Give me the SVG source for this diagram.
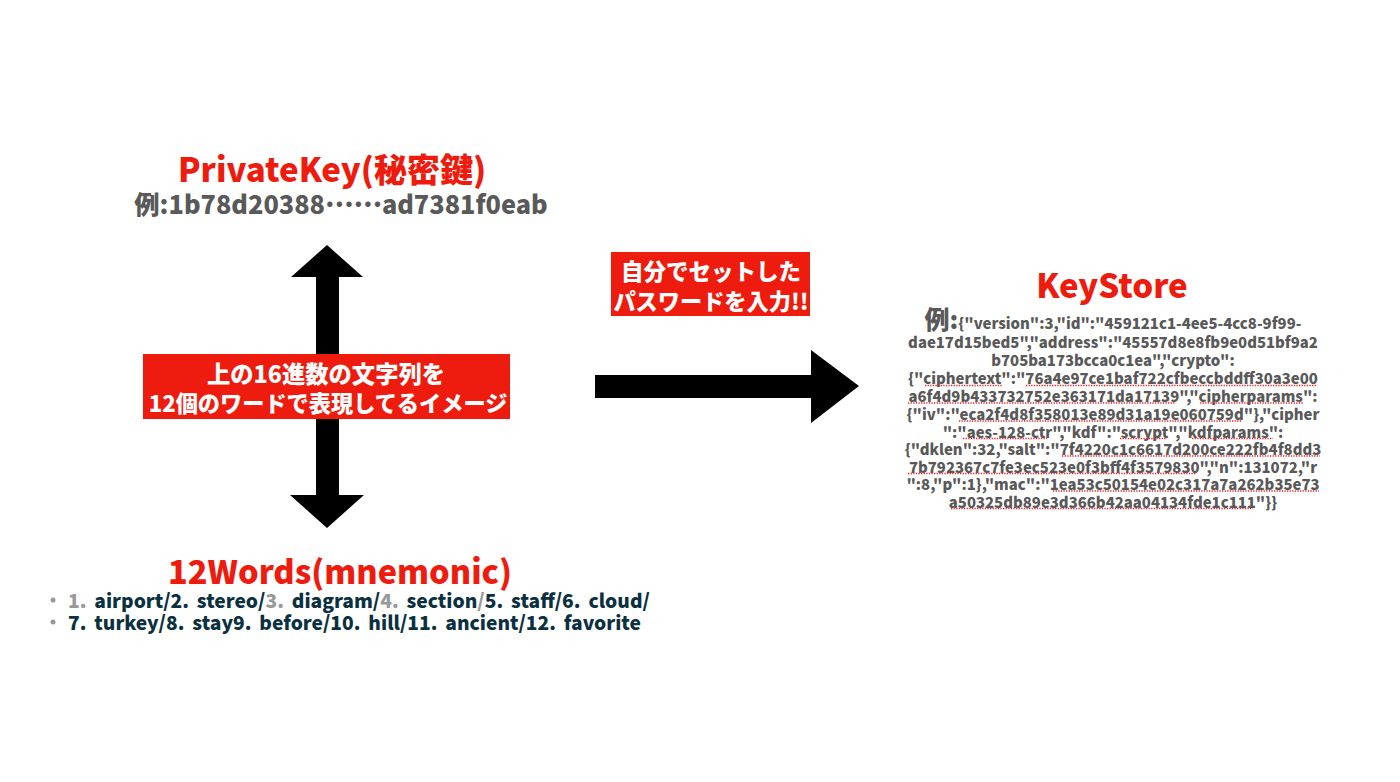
<svg xmlns="http://www.w3.org/2000/svg" width="1400" height="782" viewBox="0 0 1400 782">
<style>
text{font-family:"Noto Sans CJK JP","Noto Sans",sans-serif;font-weight:900;text-anchor:middle}
.h{fill:#ee1c0e;font-size:33px}
.g{fill:#595959}
.j{fill:#595959;font-size:14.9px}
.w{fill:#fff;font-size:22.5px}
.n{fill:#0b3040;font-size:19.2px;text-anchor:start;word-spacing:3.5px}
.m{fill:#999}
.u{stroke:#e8262a;stroke-width:1.3;stroke-dasharray:1.3 1.3;fill:none}
</style>
<rect width="1400" height="782" fill="#fff"/>
<g id="connectors">
<polygon points="327,245 363,277 339,277 339,495 364,495 327,528 290,495 316,495 316,277 291,277" fill="#000"/>
<polygon points="595,375 811,375 811,350 859,386 811,423 811,398 595,398" fill="#000"/>
</g>
<g id="private-key">
<text class="h" x="332" y="182">PrivateKey(秘密鍵)</text>
<text class="g" x="341" y="214" font-size="25.3">例:1b78d20388<tspan dy="-7">……</tspan><tspan dy="7">ad7381f0eab</tspan></text>
</g>
<g id="mnemonic-note">
<rect x="143" y="354" width="367" height="65" fill="#ee1c0e"/>
<text class="w" x="326" y="383" style="font-size:23.3px">上の16進数の文字列を</text>
<text class="w" x="328" y="412" style="font-size:22.2px">12個のワードで表現してるイメージ</text>
</g>
<g id="password-note">
<rect x="611" y="252" width="199" height="64" fill="#ee1c0e"/>
<text class="w" x="711" y="280">自分でセットした</text>
<text class="w" x="711" y="310" style="font-size:22.2px">パスワードを入力!!</text>
</g>
<g id="words">
<text class="h" x="340" y="584" style="font-size:32.5px">12Words(mnemonic)</text>
<circle cx="53" cy="600" r="2.5" fill="#999"/>
<circle cx="53" cy="622" r="2.5" fill="#999"/>
<text class="n" x="68" y="608"><tspan class="m">1.</tspan> airport/2. stereo/<tspan class="m">3.</tspan> diagram/<tspan class="m">4.</tspan> section<tspan class="m">/</tspan>5. staff/6. cloud/</text>
<text class="n" x="68" y="630">7. turkey/8. stay9. before/10. hill/11. ancient/12. favorite</text>
</g>
<g id="keystore">
<text class="h" x="1112" y="298">KeyStore</text>
<text class="j" x="1113" y="329"><tspan style="font-size:25px">例:</tspan>{"version":3,"id":"459121c1-4ee5-4cc8-9f99-</text>
<text class="j" x="1113" y="348">dae17d15bed5","address":"45557d8e8fb9e0d51bf9a2</text>
<text class="j" x="1113" y="366">b705ba173bcca0c1ea","crypto":</text>
<text class="j" x="1113" y="384">{"ciphertext":"76a4e97ce1baf722cfbeccbddff30a3e00</text>
<text class="j" x="1113" y="402">a6f4d9b433732752e363171da17139","cipherparams":</text>
<text class="j" x="1113" y="420">{"iv":"eca2f4d8f358013e89d31a19e060759d"},"cipher</text>
<text class="j" x="1113" y="438">":"aes-128-ctr","kdf":"scrypt","kdfparams":</text>
<text class="j" x="1113" y="455">{"dklen":32,"salt":"7f4220c1c6617d200ce222fb4f8dd3</text>
<text class="j" x="1113" y="473">7b792367c7fe3ec523e0f3bff4f3579830","n":131072,"r</text>
<text class="j" x="1113" y="490">":8,"p":1},"mac":"1ea53c50154e02c317a7a262b35e73</text>
<text class="j" x="1113" y="508">a50325db89e3d366b42aa04134fde1c111"}}</text>
<path class="u" d="M925 385.5H1002M1026 385.5H1317M908 403H1175M1200 403H1303M959 421H1242M963 438.5H1047M1120 438.5H1167M1192 438.5H1273M1062 456H1320M908 473.5H1196M1053 491H1319M951 508.5H1253"/>
</g>
</svg>
